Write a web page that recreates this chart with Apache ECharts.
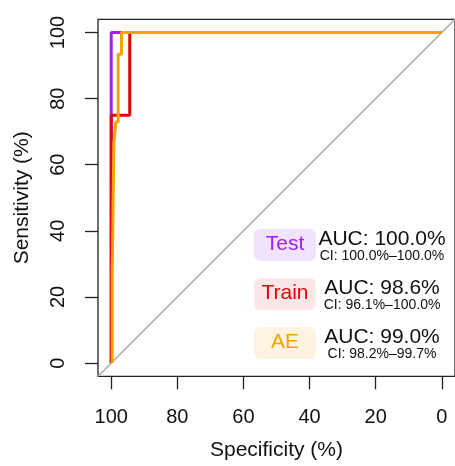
<!DOCTYPE html>
<html>
<head>
<meta charset="utf-8">
<script src="https://cdn.jsdelivr.net/npm/echarts@6.0.0/dist/echarts.min.js"></script>
<style>
  html, body { margin: 0; padding: 0; background: #fff; }
  #main { width: 455px; height: 466px; }
</style>
</head>
<body>
<div id="main"></div>
<script>
// tick values on both axes
const tickValues = [0, 20, 40, 60, 80, 100];

// ROC curves: specificity (%) and sensitivity (%)
const testSpec = [100, 100, 0];
const testSens = [0, 100, 100];

const trainSpec = [100, 100, 94.4, 94.4, 0];
const trainSens = [0, 75, 75, 100, 100];

const aeSpec = [99.7, 99.7, 99.2, 99.2, 98.6, 98.6, 97.9, 97.9, 96.9, 96.9, 0];
const aeSens = [0, 27, 27, 66.6, 66.6, 72.9, 72.9, 93.4, 93.4, 100, 100];

// chance line, drawn over the whole plot region
const diagSpec = [104, -4];
const diagSens = [-4, 104];

const groups = ['Test', 'Train', 'AE'];
const aucText = ['AUC: 100.0%', 'AUC: 98.6%', 'AUC: 99.0%'];
const ciText = ['CI: 100.0%\u2013100.0%', 'CI: 96.1%\u2013100.0%', 'CI: 98.2%\u201399.7%'];

const colors = ['#a020f0', '#e8000b', '#f5a300'];
const fills = ['#f1e3fd', '#fce6e7', '#fef3e1'];

const font = '"Liberation Sans", Arial, sans-serif';

function zipXY(xs, ys) {
  return xs.map((x, i) => [x, ys[i]]);
}

let myChart = echarts.init(document.getElementById('main'), null, { renderer: 'canvas' });

// legend boxes + AUC texts
let graphics = [];
groups.forEach((g, i) => {
  let top = 229 + i * 49;
  graphics.push({
    type: 'rect',
    shape: { x: 254, y: top, width: 62, height: 32, r: 6 },
    style: { fill: fills[i] },
    z: 10
  });
  graphics.push({
    type: 'text',
    x: 285, y: top + 15.5,
    style: { text: g, fill: colors[i], font: '21px ' + font, textAlign: 'center', textVerticalAlign: 'middle' },
    z: 11
  });
  graphics.push({
    type: 'text',
    x: 382, y: top + 10.5,
    style: { text: aucText[i], fill: '#111', font: '21px ' + font, textAlign: 'center', textVerticalAlign: 'middle' },
    z: 11
  });
  graphics.push({
    type: 'text',
    x: 382, y: top + 27,
    style: { text: ciText[i], fill: '#111', font: '14px ' + font, textAlign: 'center', textVerticalAlign: 'middle' },
    z: 11
  });
});

let option = {
  backgroundColor: '#fff',
  animation: false,
  grid: {
    left: 98,
    top: 19.3,
    width: 357.5,
    height: 357,
    show: true,
    borderColor: '#222',
    borderWidth: 1.3,
    backgroundColor: 'transparent'
  },
  xAxis: {
    type: 'value',
    inverse: true,
    min: -4,
    max: 104,
    name: 'Specificity (%)',
    nameLocation: 'middle',
    nameGap: 63,
    nameTextStyle: { fontFamily: font, fontSize: 21, color: '#111' },
    axisLine: { show: false, onZero: false },
    splitLine: { show: false },
    axisTick: {
      show: true, inside: false, length: 13,
      customValues: tickValues,
      lineStyle: { color: '#222', width: 1.3 }
    },
    axisLabel: {
      customValues: tickValues,
      margin: 31,
      fontFamily: font, fontSize: 20, color: '#111'
    }
  },
  yAxis: {
    type: 'value',
    min: -4,
    max: 104,
    name: 'Sensitivity (%)',
    nameLocation: 'middle',
    nameGap: 65,
    nameTextStyle: { fontFamily: font, fontSize: 21, color: '#111' },
    axisLine: { show: false, onZero: false },
    splitLine: { show: false },
    axisTick: {
      show: true, inside: false, length: 13,
      customValues: tickValues,
      lineStyle: { color: '#222', width: 1.3 }
    },
    axisLabel: {
      customValues: tickValues,
      rotate: 90,
      margin: 30,
      fontFamily: font, fontSize: 20, color: '#111'
    }
  },
  graphic: graphics,
  series: [
    {
      name: 'diag',
      type: 'line',
      data: zipXY(diagSpec, diagSens),
      symbol: 'none',
      lineStyle: { color: '#a8a8a8', width: 1.5 },
      z: 1
    },
    {
      name: 'Test',
      type: 'line',
      data: zipXY(testSpec, testSens),
      symbol: 'none',
      lineStyle: { color: colors[0], width: 3 },
      z: 2
    },
    {
      name: 'Train',
      type: 'line',
      data: zipXY(trainSpec, trainSens),
      symbol: 'none',
      lineStyle: { color: colors[1], width: 3 },
      z: 3
    },
    {
      name: 'AE',
      type: 'line',
      data: zipXY(aeSpec, aeSens),
      symbol: 'none',
      lineStyle: { color: colors[2], width: 3 },
      z: 4
    }
  ]
};

myChart.setOption(option);
window.addEventListener('resize', myChart.resize);
</script>
</body>
</html>
